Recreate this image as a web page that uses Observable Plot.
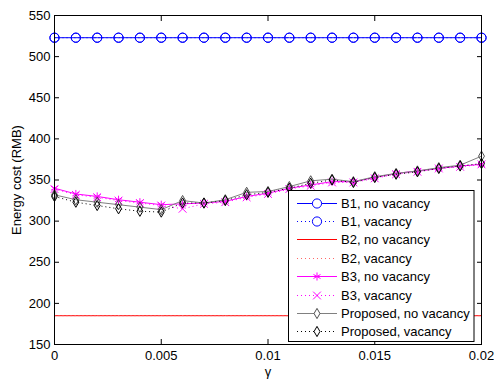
<!DOCTYPE html>
<html>
<head>
<meta charset="utf-8">
<script src="https://cdn.jsdelivr.net/npm/d3@7"></script>
<script src="https://cdn.jsdelivr.net/npm/@observablehq/plot@0.6"></script>
<style>
  html, body { margin: 0; padding: 0; background: #fff; }
  #chart { position: relative; width: 494px; height: 379px; }
</style>
</head>
<body>
<div id="chart"></div>
<script>
const gamma = [0, 0.001, 0.002, 0.003, 0.004, 0.005, 0.006, 0.007, 0.008, 0.009, 0.010,
               0.011, 0.012, 0.013, 0.014, 0.015, 0.016, 0.017, 0.018, 0.019, 0.020];
const b1NoVacancy = [523, 523, 523, 523, 523, 523, 523, 523, 523, 523, 523, 523, 523, 523, 523, 523, 523, 523, 523, 523, 523];
const b1Vacancy   = [523, 523, 523, 523, 523, 523, 523, 523, 523, 523, 523, 523, 523, 523, 523, 523, 523, 523, 523, 523, 523];
const b2NoVacancy = [185, 185, 185, 185, 185, 185, 185, 185, 185, 185, 185, 185, 185, 185, 185, 185, 185, 185, 185, 185, 185];
const b2Vacancy   = [185, 185, 185, 185, 185, 185, 185, 185, 185, 185, 185, 185, 185, 185, 185, 185, 185, 185, 185, 185, 185];
const b3NoVacancy = [340, 333, 330, 326, 323, 320, 321, 322, 324, 330, 334, 340, 344, 348, 348, 353, 358, 361, 364, 367, 369];
const b3Vacancy   = [339, 332, 329, 325, 322, 319, 315, 321, 323, 329, 333, 339, 343, 347, 347, 352, 357, 360, 364, 366, 369];
const propNoVacancy = [332, 326, 323, 320, 317, 314, 325, 322, 326, 335, 336, 342, 349, 351, 348, 354, 358, 361, 365, 368, 379];
const propVacancy   = [330, 323, 319, 315, 312, 311, 322, 322, 325, 332, 335, 340, 346, 350, 347, 353, 357, 360, 364, 367, 370];

const xTicks = [0, 0.005, 0.01, 0.015, 0.02];
const xTickLabels = ["0", "0.005", "0.01", "0.015", "0.02"];
const yTicks = [150, 200, 250, 300, 350, 400, 450, 500, 550];
const seriesNames = ["B1, no vacancy", "B1, vacancy", "B2, no vacancy", "B2, vacancy",
                     "B3, no vacancy", "B3, vacancy", "Proposed, no vacancy", "Proposed, vacancy"];

const seriesValues = [b1NoVacancy, b1Vacancy, b2NoVacancy, b2Vacancy, b3NoVacancy, b3Vacancy, propNoVacancy, propVacancy];
const styles = [
  {stroke: "#0000ff", dash: null, symbol: "circle", r: 4.6, markerStroke: "#0000ff"},
  {stroke: "#0000ff", dash: "1,3", symbol: "circle", r: 4.6, markerStroke: "#0000ff"},
  {stroke: "#ff0000", dash: null, symbol: null},
  {stroke: "#ff6666", dash: "1,3", symbol: null},
  {stroke: "#ff00ff", dash: null, symbol: "asterisk", r: 3.8, markerStroke: "#ff00ff"},
  {stroke: "#ff00ff", dash: "1,3", symbol: "times", r: 3.6, markerStroke: "#ff00ff"},
  {stroke: "#808080", dash: null, symbol: "diamond", r: 3.1, markerStroke: "#505050"},
  {stroke: "#000000", dash: "1,3", symbol: "diamond", r: 3.1, markerStroke: "#000000"}
];

const marks = [];
seriesValues.forEach((vals, i) => {
  const rows = gamma.map((g, j) => ({g, v: vals[j]}));
  const s = styles[i];
  marks.push(Plot.line(rows, {x: "g", y: "v", stroke: s.stroke, strokeWidth: 1,
    strokeDasharray: s.dash, strokeLinecap: s.dash ? "butt" : "round"}));
  if (s.symbol) {
    marks.push(Plot.dot(rows, {x: "g", y: "v", symbol: s.symbol, r: s.r, stroke: s.markerStroke, fill: "none", strokeWidth: 1}));
  }
});

const fmt = new Map(xTicks.map((t, i) => [t, xTickLabels[i]]));

const chart = Plot.plot({
  width: 494,
  height: 379,
  marginLeft: 54,
  marginRight: 13,
  marginTop: 15,
  marginBottom: 35,
  style: {fontFamily: "'Liberation Sans', Arial, sans-serif", fontSize: "13px", color: "#000", background: "#fff"},
  x: {domain: [0, 0.02]},
  y: {domain: [150, 550]},
  marks: [
    ...marks,
    Plot.frame({stroke: "#000", strokeWidth: 1}),
    Plot.axisX({anchor: "bottom", ticks: xTicks, tickSize: -5, text: null, label: null}),
    Plot.axisX({anchor: "top", ticks: xTicks, tickSize: -5, text: null, label: null}),
    Plot.axisY({anchor: "left", ticks: yTicks, tickSize: -5, text: null, label: null}),
    Plot.axisY({anchor: "right", ticks: yTicks, tickSize: -5, text: null, label: null}),
    Plot.axisX({anchor: "bottom", ticks: xTicks, tickSize: 0, tickPadding: 6, tickFormat: d => fmt.get(d), label: "γ", labelAnchor: "center", labelArrow: "none", labelOffset: 31}),
    Plot.axisY({anchor: "left", ticks: yTicks, tickSize: 0, tickPadding: 4, label: "Energy cost (RMB)", labelAnchor: "center", labelArrow: "none", labelOffset: 43})
  ]
});

document.getElementById("chart").appendChild(chart);

// Legend drawn inside the plot, lower right (MATLAB style)
const svg = d3.select(chart);
const lg = svg.append("g")
  .attr("font-family", "'Liberation Sans', Arial, sans-serif")
  .attr("font-size", 13)
  .attr("text-anchor", "start");
const boxX = 288.5, boxY = 190.5, boxW = 185.5, boxH = 151;
lg.append("rect").attr("x", boxX).attr("y", boxY).attr("width", boxW).attr("height", boxH)
  .style("fill", "#fff").style("stroke", "#000").attr("stroke-width", 1);
const rowY0 = 202.5, rowStep = 18.4;
const symMap = {circle: d3.symbolCircle, asterisk: d3.symbolAsterisk, times: d3.symbolTimes, diamond: d3.symbolDiamond};
seriesNames.forEach((name, i) => {
  const s = styles[i];
  const y = Math.round(rowY0 + i * rowStep) + 0.5;
  const ln = lg.append("line").attr("x1", 297).attr("x2", 337).attr("y1", y).attr("y2", y)
    .style("stroke", s.stroke).attr("stroke-width", 1);
  if (s.dash) ln.style("stroke-dasharray", s.dash);
  if (s.symbol) {
    lg.append("path").attr("transform", `translate(317,${y})`)
      .attr("d", d3.symbol(symMap[s.symbol], Math.PI * s.r * s.r)())
      .style("fill", "#fff").style("stroke", s.markerStroke).attr("stroke-width", 1);
  }
  lg.append("text").attr("x", 341).attr("y", y).attr("dy", "0.35em")
    .style("text-anchor", "start").style("fill", "#000").text(name);
});
</script>
</body>
</html>
